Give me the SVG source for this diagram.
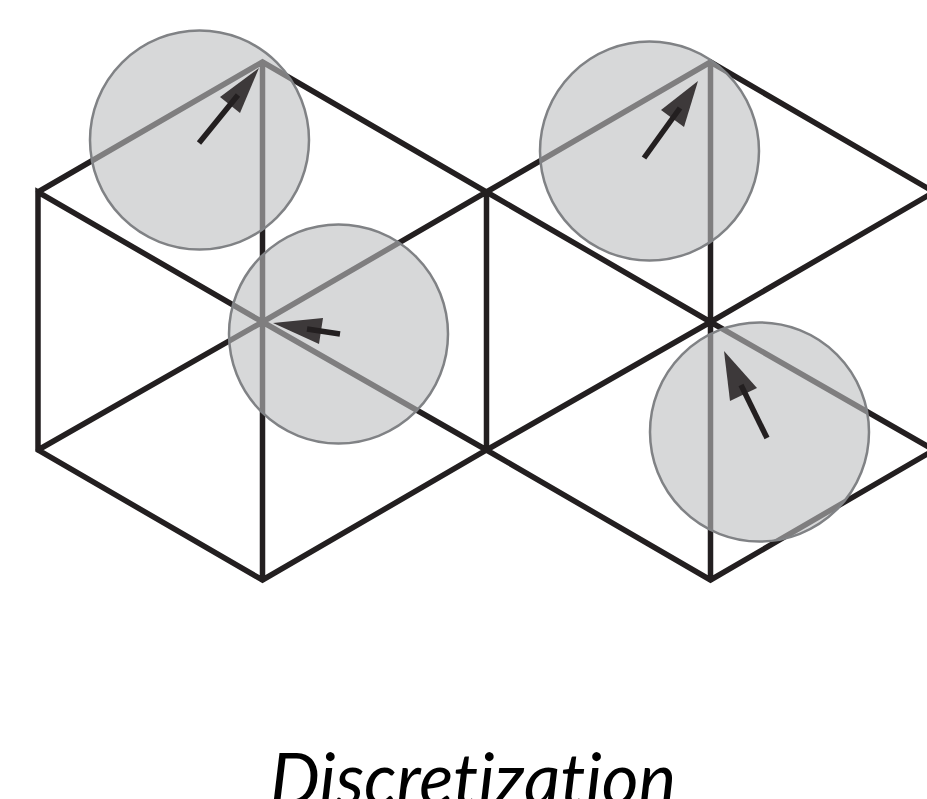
<svg xmlns="http://www.w3.org/2000/svg" width="927" height="799" viewBox="0 0 927 799">
<style>
.e{stroke:#231f20;stroke-width:5.500;stroke-linecap:round;fill:none}
.c{fill:#bcbec0;fill-opacity:.6;stroke:#808285;stroke-width:2.500}
.a{stroke:#231f20;stroke-width:5.500;fill:none}
.h{fill:#3d393a}
</style>
<rect width="927" height="799" fill="#fff"/>
<g id="connectors">
<path class="e" d="M38 192L262.500 62L486.500 192L262.500 322L38 192V450L262.500 580L486.500 450V192M262.500 62V580M262.500 322L38 450M262.500 322L486.500 450"/>
<path class="e" d="M486.500 192L710.500 62L934 192L710.500 322L486.500 192M710.500 62V580M486.500 450L710.500 322L934 450M486.500 450L710.500 580L934 450"/>
</g>
<g id="node-1"><circle class="c" cx="199.500" cy="140" r="109.500"/><path class="h" d="M259 68L240 113L220 97Z"/><path class="a" d="M199 143L238 95"/></g>
<g id="node-2"><circle class="c" cx="338.500" cy="334" r="109.500"/><path class="h" d="M273 323L323 318L319 344Z"/><path class="a" d="M340 334L307 329"/></g>
<g id="node-3"><circle class="c" cx="649.500" cy="151" r="109.500"/><path class="h" d="M698 81L684 127L661 110Z"/><path class="a" d="M644 158L680 108"/></g>
<g id="node-4"><circle class="c" cx="759.500" cy="432" r="109.500"/><path class="h" d="M724 351L757 388L730 401Z"/><path class="a" d="M767 438L741 385"/></g>
<text x="473" y="805" text-anchor="middle" font-family="Lato,'Open Sans',sans-serif" font-style="italic" font-size="71" style="font-variant-ligatures:none" fill="#000">Discretization</text>
</svg>
